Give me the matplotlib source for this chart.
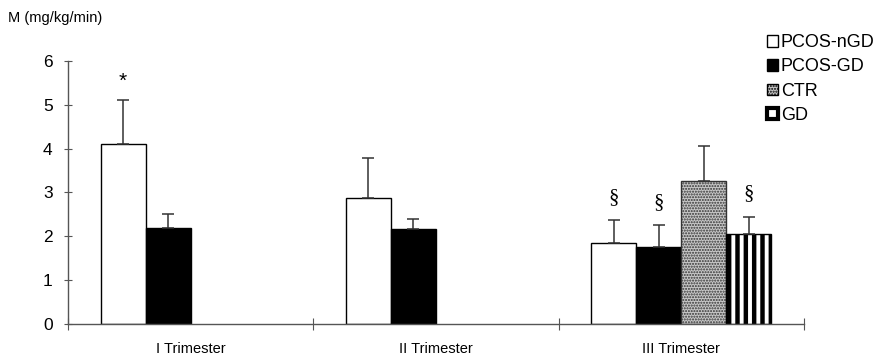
import numpy as np
import matplotlib
matplotlib.use("Agg")
import matplotlib.pyplot as plt
from matplotlib.patches import Patch

plt.rcParams['font.family'] = ['Liberation Sans', 'DejaVu Sans']

categories = ["I Trimester", "II Trimester", "III Trimester"]
series = ["PCOS-nGD", "PCOS-GD", "CTR", "GD"]
# values per series per category (nan = not measured)
pcos_ngd = [4.1, 2.87, 1.85]
pcos_ngd_err = [1.0, 0.92, 0.52]
pcos_gd = [2.2, 2.17, 1.76]
pcos_gd_err = [0.3, 0.23, 0.5]
ctr = [np.nan, np.nan, 3.26]
ctr_err = [np.nan, np.nan, 0.8]
gd = [np.nan, np.nan, 2.05]
gd_err = [np.nan, np.nan, 0.4]
# significance marks: (series index, category index, symbol)
marks = [(0, 0, "*"), (0, 2, "\u00a7"), (1, 2, "\u00a7"), (3, 2, "\u00a7")]
yticks = [0, 1, 2, 3, 4, 5, 6]

values = [pcos_ngd, pcos_gd, ctr, gd]
errors = [pcos_ngd_err, pcos_gd_err, ctr_err, gd_err]
styles = [
    dict(facecolor="white", edgecolor="black", hatch=None),
    dict(facecolor="black", edgecolor="black", hatch=None),
    dict(facecolor="#c8c8c8", edgecolor="#333333", hatch="......"),
    dict(facecolor="white", edgecolor="black", hatch="||"),
]

fig = plt.figure(figsize=(8.85, 3.6), dpi=100)
ax = fig.add_axes([0.0768, 0.1, 0.8317, 0.7306])

x = np.arange(len(categories)) + 0.5
w = 0.1837
offsets = (np.arange(4) - 1.5) * w
handles = []
for i, (vals, errs, st) in enumerate(zip(values, errors, styles)):
    v = np.array(vals, dtype=float)
    e = np.array(errs, dtype=float)
    bars = ax.bar(x + offsets[i], v, width=w, facecolor=st["facecolor"],
                  edgecolor=st["edgecolor"], hatch=st["hatch"], linewidth=1.0,
                  zorder=2)
    for b in bars:
        if i == 3:
            if hasattr(b, "set_hatch_linewidth"):
                b.set_hatch_linewidth(3.2)
            b.set_edgecolor("black")
        if i == 2:
            if hasattr(b, "set_hatch_linewidth"):
                b.set_hatch_linewidth(1.0)
            b.set_edgecolor("#333333")
    ok = ~np.isnan(v)
    ax.errorbar((x + offsets[i])[ok], v[ok], yerr=[np.zeros(ok.sum()), e[ok]],
                fmt="none", ecolor="#333333", elinewidth=1.1, capsize=4.5,
                capthick=1.1, zorder=3)
    if i == 3:
        h = Patch(facecolor="white", edgecolor="black", linewidth=3.0, label=series[i])
    else:
        h = Patch(facecolor=st["facecolor"], edgecolor="black",
                  hatch=st["hatch"], linewidth=1.0, label=series[i])
    handles.append(h)

for si, ci, sym in marks:
    top = values[si][ci] + errors[si][ci]
    if sym == "*":
        ax.text(x[ci] + offsets[si], top + 0.22, sym, ha="center", va="bottom",
                fontsize=15)
    else:
        ax.text(x[ci] + offsets[si], top + 0.3, sym, ha="center", va="bottom",
                fontsize=15, family="Liberation Serif")

ax.set_xlim(0, 3)
ax.set_ylim(0, 6)
ax.set_yticks(yticks)
ax.set_yticklabels([str(t) for t in yticks], fontsize=12.5)
ax.set_xticks([0, 1, 2, 3])
ax.set_xticklabels([])
ax.set_xticks(x, minor=True)
ax.set_xticklabels(categories, minor=True, fontsize=10.5)
ax.tick_params(axis="x", which="minor", length=0, pad=13)
ax.tick_params(axis="x", which="major", direction="inout", length=8, color="#555555")
ax.tick_params(axis="y", direction="inout", length=6, color="#555555", pad=8)
for s in ["top", "right"]:
    ax.spines[s].set_visible(False)
for s in ["left", "bottom"]:
    ax.spines[s].set_color("#555555")
    ax.spines[s].set_linewidth(1.0)

fig.text(0.009, 0.95, "M (mg/kg/min)", fontsize=10.5, ha="left", va="center")

leg = fig.legend(handles=handles, loc="upper left", bbox_to_anchor=(0.859, 0.925),
                 frameon=False, fontsize=13, handlelength=0.6, handleheight=0.6,
                 handletextpad=0.15, labelspacing=0.4, borderaxespad=0)

fig.savefig("out.png", dpi=100)
